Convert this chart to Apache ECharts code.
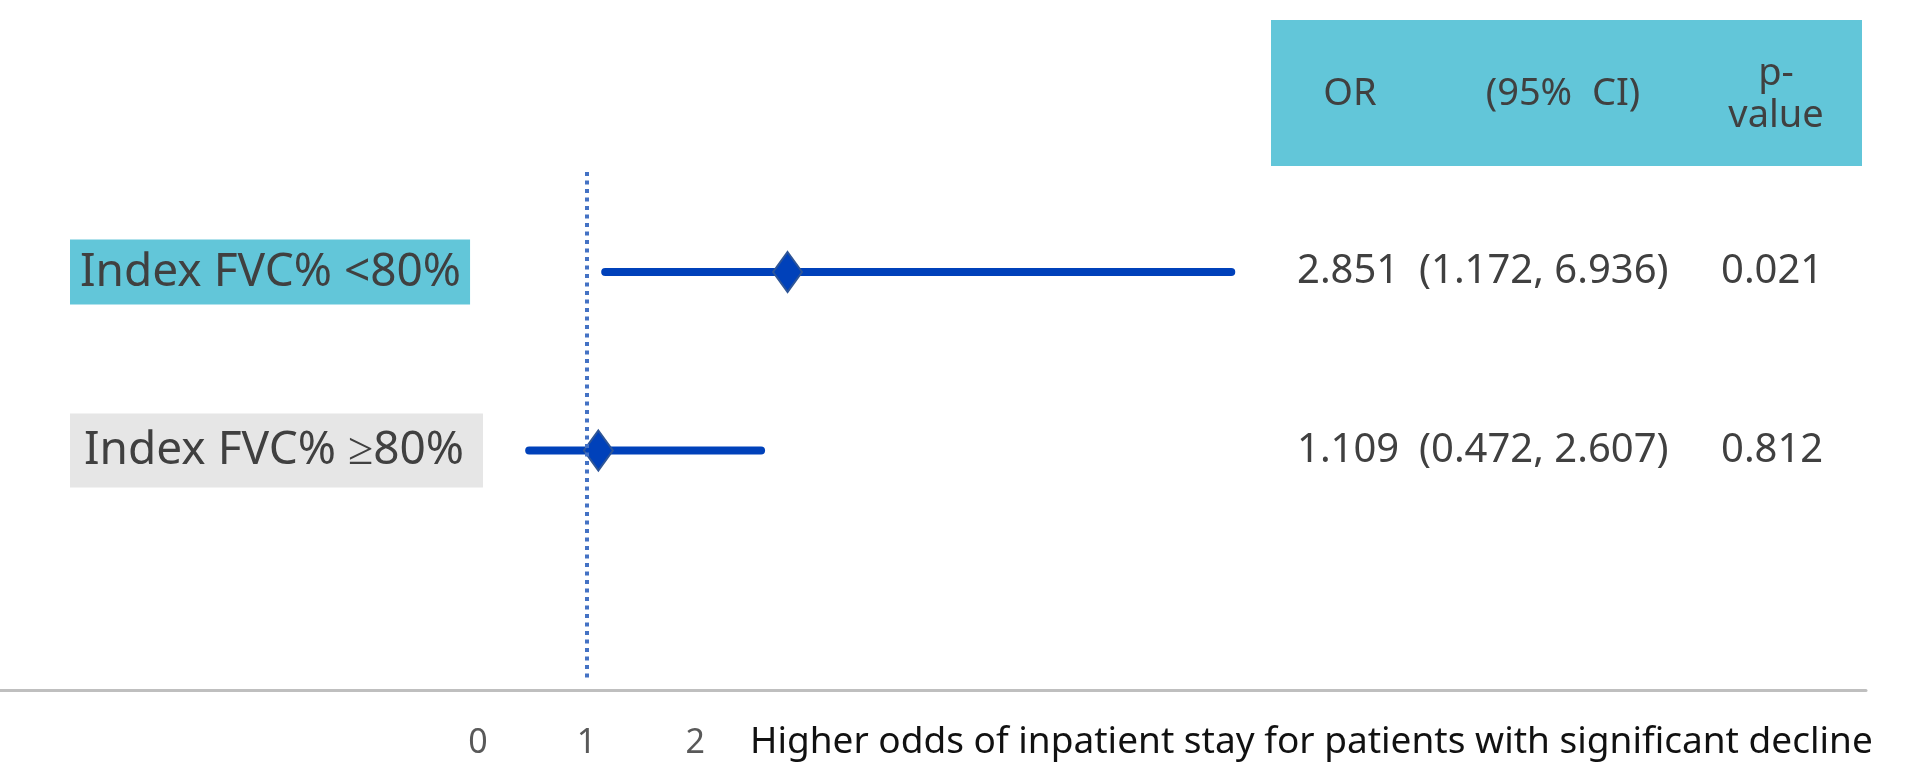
<!DOCTYPE html>
<html><head><meta charset="utf-8">
<script src="https://cdn.jsdelivr.net/npm/echarts@6/dist/echarts.min.js"></script>
<style>html,body{margin:0;padding:0;background:#fff}#c{width:1930px;height:779px}</style>
</head><body><div id="c"></div>
<script>
const categories = ['Index FVC% <80%', 'Index FVC% ≥80%'];
const oddsRatio = [2.851, 1.109];
const ciLow = [1.172, 0.472];
const ciHigh = [6.936, 2.607];
const pValues = ['0.021', '0.812'];
const xTickLabels = [0, 1, 2];
const referenceLine = 1;
const headerLabels = ['OR', '(95%  CI)', 'p-\nvalue'];
const xAxisTitle = 'Higher odds of inpatient stay for patients with significant decline';

const FONT = 'Noto Sans';
const rowIdx = categories.map((_, i) => i);
const yMin = -0.56, yMax = 2.291;

const chart = echarts.init(document.getElementById('c'), null, {renderer: 'canvas'});
const option = {
  animation: false,
  backgroundColor: '#ffffff',
  grid: {left: 0, right: 64, top: 172, bottom: 98},
  xAxis: {
    type: 'value', min: -4.4, max: 12.78, offset: 9, position: 'bottom',
    axisLine: {show: true, onZero: false, lineStyle: {color: '#BFBFBF', width: 3}},
    axisTick: {show: false}, splitLine: {show: false},
    axisLabel: {customValues: xTickLabels, fontSize: 34, color: '#595959', margin: 36, fontFamily: FONT}
  },
  yAxis: [{
    type: 'value', inverse: true, min: yMin, max: yMax, position: 'left',
    axisLine: {show: false, onZero: false}, axisTick: {show: false}, splitLine: {show: false},
    axisLabel: {
      inside: true, margin: 70, customValues: rowIdx,
      formatter: v => { const i = Math.round(v); return categories[i] !== undefined ? `{r${i}|${categories[i]}}` : ''; },
      rich: {
        r0: {fontSize: 46, fontFamily: FONT, color: '#404040', backgroundColor: '#62C6D9', padding: [10, 9, 9, 10], lineHeight: 55},
        r1: {fontSize: 46, fontFamily: FONT, color: '#404040', backgroundColor: '#E6E6E6', padding: [14, 19, 14, 14], lineHeight: 55}
      }
    }
  }, {
    type: 'value', inverse: true, min: yMin, max: yMax, position: 'right',
    axisLine: {show: false, onZero: false}, axisTick: {show: false}, splitLine: {show: false},
    axisLabel: {
      inside: true, margin: 30, customValues: rowIdx,
      formatter: v => {
        const i = Math.round(v);
        if (categories[i] === undefined) return '';
        return `{o|${oddsRatio[i].toFixed(3)}}{c|(${ciLow[i].toFixed(3)}, ${ciHigh[i].toFixed(3)})}{p|${pValues[i]}}`;
      },
      rich: {
        o: {width: 122, align: 'left', fontSize: 40, fontFamily: FONT, color: '#404040'},
        c: {width: 302, align: 'left', fontSize: 40, fontFamily: FONT, color: '#404040'},
        p: {width: 115, align: 'left', fontSize: 40, fontFamily: FONT, color: '#404040'}
      }
    }
  }],
  series: [{
    type: 'custom', name: 'CI', z: 2,
    data: rowIdx.map(i => [ciLow[i], ciHigh[i], i]),
    encode: {x: [0, 1], y: 2},
    renderItem: (params, api) => {
      const a = api.coord([api.value(0), api.value(2)]);
      const b = api.coord([api.value(1), api.value(2)]);
      return {type: 'line', shape: {x1: a[0], y1: a[1], x2: b[0], y2: b[1]},
        style: {stroke: '#0041BA', lineWidth: 8, lineCap: 'round'}};
    }
  }, {
    type: 'scatter', name: 'OR', z: 3,
    data: rowIdx.map(i => [oddsRatio[i], i]),
    symbol: 'diamond', symbolSize: [29, 40],
    itemStyle: {color: '#0041BA', borderColor: '#2E5597', borderWidth: 2, opacity: 1},
    markLine: {
      silent: true, symbol: ['none', 'none'], label: {show: false},
      lineStyle: {color: '#4472C4', width: 4, type: [4, 4.5]},
      data: [{xAxis: referenceLine}]
    }
  }],
  graphic: [
    {type: 'rect', left: 1271, top: 20, shape: {width: 591, height: 146}, style: {fill: '#62C6D9'}},
    {type: 'text', x: 1350, y: 94, style: {text: headerLabels[0], fontSize: 38, fontFamily: FONT, fill: '#404040', align: 'center', verticalAlign: 'middle'}},
    {type: 'text', x: 1563, y: 94, style: {text: headerLabels[1], fontSize: 38, fontFamily: FONT, fill: '#404040', align: 'center', verticalAlign: 'middle'}},
    {type: 'text', x: 1776, y: 95, style: {text: headerLabels[2], fontSize: 38, lineHeight: 42, fontFamily: FONT, fill: '#404040', align: 'center', verticalAlign: 'middle'}},
    {type: 'text', x: 750, y: 742, style: {text: xAxisTitle, fontSize: 37, fontFamily: FONT, fill: '#111111', align: 'left', verticalAlign: 'middle'}}
  ]
};
chart.setOption(option);
</script>
</body></html>
